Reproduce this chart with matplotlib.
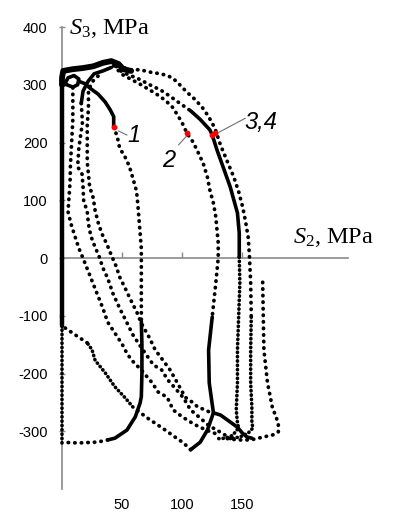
import matplotlib
matplotlib.use("Agg")
import matplotlib.pyplot as plt
from matplotlib.transforms import blended_transform_factory

plt.rcParams['mathtext.fontset'] = 'custom'
plt.rcParams['mathtext.rm'] = 'Liberation Serif'
plt.rcParams['mathtext.it'] = 'Liberation Serif:italic'

# ---------------- data (S2, S3 in MPa) ----------------
# vertical branch on the S3 axis
axis_x = [0, 0, 0, 0]
axis_y = [-320, -118, 0, 305]

# thick cluster at the top
top_x = [0, 0, 1, 9, 17.5, 26, 34, 41, 47, 51, 57.5]
top_y = [300, 312, 324, 327, 329, 332, 338, 341, 336, 327, 324]
arch_x = [16, 17.5, 21.7, 26.7, 34, 41]
arch_y = [268, 289, 306, 319, 324, 330]
loop_x = [2, 5, 10, 14, 13, 9, 4]
loop_y = [300, 312, 316, 310, 300, 296, 300]

# curve 1
c1s_x = [14, 19, 24, 30, 36, 40, 43, 43]
c1s_y = [306, 302, 293, 284, 270, 257, 245, 227]
c1d_x = [43, 46, 48, 52, 56, 59, 62, 63, 64, 65, 66, 66, 66, 66]
c1d_y = [227, 210, 190, 177, 159, 138, 116, 95, 69, 43, 17, -9, -33, -110]
c1b_x = [66, 66.5, 66.5, 66, 65, 61, 54, 44, 38]
c1b_y = [-110, -150, -200, -240, -251, -275, -298, -312, -315]
c1e_x = [38, 34, 27, 17, 9, 1]
c1e_y = [-315, -317, -319, -320, -320, -319]

# curve 2
c2t_x = [43, 50, 57, 65, 73, 80, 86, 92, 96, 100, 104, 109, 113, 117.5, 121, 123, 126, 128, 129, 130, 130, 128, 125]
c2t_y = [333, 318, 310, 301, 291, 282, 273, 261, 248, 234, 216, 201, 184, 164, 140, 118, 95, 71, 48, 26, 0, -43, -102]
c2v_x = [125, 122, 122.5, 126, 121, 115, 107]
c2v_y = [-102, -159, -216, -268, -298, -319, -332]
c2d_x = [107, 101, 94, 86, 77.5, 71, 59]
c2d_y = [-332, -320, -310, -298, -286, -277, -258]
c2s_x = [59, 52.5, 44, 36, 27.5, 25, 21]
c2s_y = [-258, -242, -223, -199, -177, -159, -147]
c2e_x = [21, 11, 2.5, 0]
c2e_y = [-147, -133, -121, -118]
c2h_x = [126, 132, 138, 146, 150, 154, 158]
c2h_y = [-268, -272, -281, -293, -303, -310, -312]

# curve 3
c3d_x = [45, 50, 57, 65, 73, 82, 90, 98, 107]
c3d_y = [332, 322, 316, 309, 300, 291, 280, 268, 255]
c3s_x = [107, 115, 123, 125, 129, 134, 140, 146, 147.5, 147.5]
c3s_y = [255, 240, 222, 213, 187, 158, 123, 78, 43, 2]
c3b_x = [147.5, 148, 147, 146, 146, 145, 146, 147, 142, 136, 128]
c3b_y = [2, -43, -102, -159, -216, -263, -286, -294, -307, -312, -313]

# curve 4
c4d_x = [47, 57, 65, 73, 79, 86, 92, 98, 104, 111, 117, 121, 125, 128, 132, 137, 143, 147, 150.5, 153, 155, 156, 157, 157.5]
c4d_y = [333, 326, 326, 322, 320, 317, 312, 300, 287, 274, 260, 248, 234, 220, 195, 170, 140, 115, 87, 60, 35, 2, -43, -102]
c4s_x = [157.5, 157, 157, 158, 158, 159, 155, 148, 142]
c4s_y = [-102, -159, -216, -258, -286, -294, -303, -310, -312]

# outer unloading branch
c5_x = [167, 167.5, 168, 171, 175, 180, 180, 176, 167.5, 157, 146, 135]
c5_y = [-42, -102, -159, -216, -258, -286, -301, -306, -310, -315, -315, -312]

# return bands a, b, c
ba_x = [9, 9, 9, 8, 7, 6.7, 5, 7.5, 11, 14, 18, 22, 26, 30, 34, 38, 44, 50, 54, 58, 66, 75, 80, 87.5, 92.5, 100, 110, 120, 129]
ba_y = [295, 270, 240, 200, 160, 132, 80, 59, 36, 17, -3, -24, -45, -66, -87, -111, -130, -149, -165, -177, -194, -216, -232, -241, -263, -275, -288, -298, -305]
bb_x = [16, 17, 16, 14, 13, 16.7, 17.5, 18, 21, 22, 24, 27.5, 31, 34, 38, 42.5, 48, 54, 59, 65, 76, 83, 88, 94, 101, 107, 115, 122, 133, 142]
bb_y = [268, 235, 220, 190, 158, 145, 123, 100, 80, 59, 38, 19, 2, -17, -35, -62, -87, -112, -133, -152, -185, -194, -211, -225, -242, -263, -277, -290, -303, -315]
bc_x = [30, 25, 22, 22, 21, 21, 21, 22, 23, 26, 27.5, 30, 33, 37.5, 41, 45, 48, 52.5, 57.5, 62.5, 66, 73, 77.5, 84, 90, 97, 102.5, 108, 113, 119, 124]
bc_y = [315, 305, 290, 260, 230, 190, 166, 145, 123, 104, 83, 62, 43, 23, 5, -14, -33, -52, -74, -95, -113, -139, -159, -177, -194, -220, -241, -249, -258, -263, -268]

# marked points and labels
mark_x = [43, 104, 125, 127.5]
mark_y = [227, 216, 213, 216.5]
lab_text = ["1", "2", "3,4"]
lab_x = [54, 83, 152]
lab_y = [201, 157, 224]
lead_x0 = [47, 104, 129]
lead_y0 = [220, 212, 216]
lead_x1 = [54, 97, 152.5]
lead_y1 = [213, 196, 242]

yticks = [-300, -200, -100, 0, 100, 200, 300, 400]
xticks = [50, 100, 150]
xtick_labels = ["50", "100", "150"]

# ---------------- plot ----------------
fig = plt.figure(figsize=(3.93, 5.12), dpi=100)
ax = fig.add_axes([0.1578, 0.0449, 0.7277, 0.9023])
ax.set_xlim(0, 238)
ax.set_ylim(-400, 400)

GRAY = '#8a8a8a'
for s in ['top', 'right']:
    ax.spines[s].set_visible(False)
ax.spines['left'].set_color(GRAY)
ax.spines['bottom'].set_color(GRAY)
ax.spines['left'].set_linewidth(1.2)
ax.spines['bottom'].set_linewidth(1.2)
ax.spines['bottom'].set_position(('data', 0))

ax.set_yticks(yticks)
ax.set_yticklabels([str(v) for v in yticks], fontfamily='Liberation Sans', fontsize=10.5)
ax.tick_params(axis='y', direction='inout', length=5, width=1, color=GRAY, pad=8)
ax.set_xticks(xticks)
ax.tick_params(axis='x', direction='in', length=4, width=1, color=GRAY, labelbottom=False)
tr = blended_transform_factory(ax.transData, ax.transAxes)
for xv, lbl in zip(xticks, xtick_labels):
    ax.text(xv, -0.035, lbl, transform=tr, ha='center', va='center',
            fontfamily='Liberation Sans', fontsize=10.5)

Z = 3
DOT = dict(color='black', lw=2.7, linestyle=(0, (0.1, 1.65)), dash_capstyle='round', clip_on=False, zorder=Z)
DENSE = dict(color='black', lw=2.6, linestyle=(0, (0.1, 1.1)), dash_capstyle='round', clip_on=False, zorder=Z)
SOLID = dict(color='black', lw=2.6, solid_capstyle='round', solid_joinstyle='round', clip_on=False, zorder=Z)

ax.plot(axis_x[:2], axis_y[:2], **DENSE)
ax.plot(axis_x[1:], axis_y[1:], color='black', lw=3.2, solid_capstyle='round', clip_on=False, zorder=Z)
ax.plot(top_x, top_y, lw=4.2, color='black', solid_capstyle='round', solid_joinstyle='round',
        clip_on=False, zorder=Z)
ax.plot(arch_x, arch_y, **SOLID)
ax.plot(loop_x, loop_y, **SOLID)

ax.plot(c1s_x, c1s_y, **SOLID)
ax.plot(c1d_x, c1d_y, **DOT)
ax.plot(c1b_x, c1b_y, **SOLID)
ax.plot(c1e_x, c1e_y, **DOT)

ax.plot(c2t_x, c2t_y, **DOT)
ax.plot(c2v_x, c2v_y, **SOLID)
ax.plot(c2d_x, c2d_y, **DOT)
ax.plot(c2s_x, c2s_y, **DENSE)
ax.plot(c2e_x, c2e_y, **DOT)
ax.plot(c2h_x, c2h_y, **SOLID)

ax.plot(c3d_x, c3d_y, **DOT)
ax.plot(c3s_x, c3s_y, **SOLID)
ax.plot(c3b_x, c3b_y, **DENSE)

ax.plot(c4d_x, c4d_y, **DOT)
ax.plot(c4s_x, c4s_y, **DENSE)
ax.plot(c5_x, c5_y, **DOT)

ax.plot(ba_x, ba_y, **DOT)
ax.plot(bb_x, bb_y, **DOT)
ax.plot(bc_x, bc_y, **DOT)

for x0, y0, x1, y1 in zip(lead_x0, lead_y0, lead_x1, lead_y1):
    ax.plot([x0, x1], [y0, y1], color='#707070', lw=0.8, zorder=Z)
ax.plot(mark_x, mark_y, 'o', color='red', ms=4.2, mec='none', zorder=5)
for t, xv, yv in zip(lab_text, lab_x, lab_y):
    ax.text(xv, yv, t, fontfamily='Liberation Sans', fontstyle='italic', fontsize=17,
            ha='left', va='baseline')

ax.text(6, 388, r'$S_{\mathrm{3}}$, MPa', fontfamily='Liberation Serif', fontsize=17.5,
        ha='left', va='baseline')
ax.text(192, 26, r'$S_{\mathrm{2}}$, MPa', fontfamily='Liberation Serif', fontsize=17.5,
        ha='left', va='baseline', clip_on=False)

fig.savefig('out.png', dpi=100)
